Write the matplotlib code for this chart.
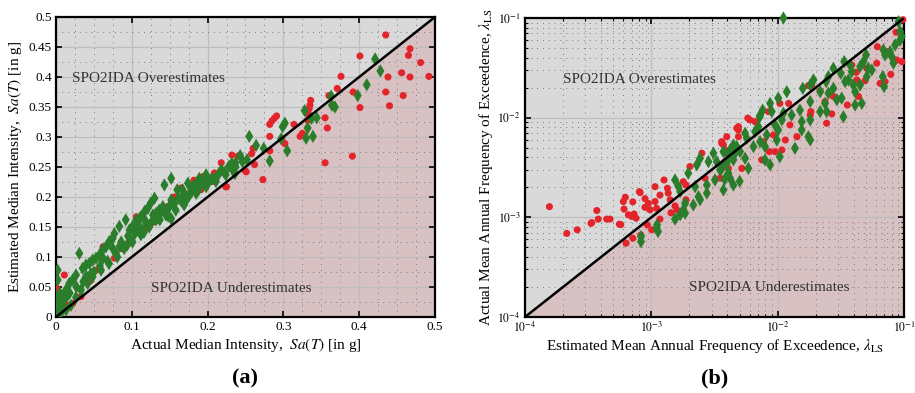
import numpy as np
import matplotlib
matplotlib.use('Agg')
import matplotlib.pyplot as plt
from matplotlib.patches import Polygon
from matplotlib.ticker import FixedLocator, LogLocator, NullFormatter, FuncFormatter

plt.rcParams['font.family'] = ['Liberation Serif', 'DejaVu Serif']
plt.rcParams['mathtext.fontset'] = 'stix'

# Panel (a): median intensity, actual (x) vs estimated (y), in g
red_a_x = [0.435, 0.401, 0.467, 0.465, 0.481, 0.438, 0.456, 0.467, 0.492, 0.376, 0.371, 0.392,
           0.435, 0.458, 0.440, 0.401, 0.360, 0.355, 0.358, 0.336, 0.335, 0.334, 0.332, 0.332,
           0.325, 0.322, 0.314, 0.291, 0.288, 0.285, 0.282, 0.282, 0.298, 0.302, 0.282, 0.391,
           0.355, 0.273, 0.262, 0.258, 0.260, 0.250, 0.232, 0.247, 0.218, 0.251, 0.224, 0.207,
           0.191, 0.194, 0.172, 0.176, 0.156, 0.147, 0.106, 0.119, 0.095, 0.086, 0.077, 0.062,
           0.057, 0.053, 0.011, 0.033, 0.022, 0.001, 0.225, 0.182, 0.165, 0.138, 0.128, 0.045,
           0.005, 0.015, 0.240, 0.209]
red_a_y = [0.470, 0.435, 0.447, 0.436, 0.424, 0.400, 0.407, 0.400, 0.401, 0.401, 0.381, 0.375,
           0.375, 0.369, 0.352, 0.349, 0.369, 0.332, 0.315, 0.361, 0.353, 0.347, 0.339, 0.328,
           0.306, 0.301, 0.321, 0.335, 0.331, 0.327, 0.321, 0.301, 0.297, 0.289, 0.277, 0.268,
           0.257, 0.229, 0.254, 0.272, 0.281, 0.243, 0.270, 0.261, 0.257, 0.242, 0.217, 0.226,
           0.212, 0.234, 0.200, 0.203, 0.200, 0.184, 0.167, 0.148, 0.123, 0.114, 0.098, 0.117,
           0.100, 0.078, 0.070, 0.034, 0.023, 0.048, 0.217, 0.228, 0.215, 0.176, 0.158, 0.060,
           0.010, 0.020, 0.268, 0.240]

green_a_x = [0.421, 0.428, 0.410, 0.398, 0.363, 0.364, 0.368, 0.328, 0.344, 0.337, 0.332, 0.339,
             0.330, 0.302, 0.299, 0.297, 0.305, 0.282, 0.255, 0.264, 0.274, 0.243, 0.252, 0.237,
             0.232, 0.236, 0.237, 0.215, 0.198, 0.189, 0.194, 0.185, 0.180, 0.152, 0.143, 0.167,
             0.169, 0.174, 0.152, 0.156, 0.169, 0.152, 0.141, 0.136, 0.132, 0.130, 0.125, 0.121,
             0.117, 0.112, 0.106, 0.101, 0.097, 0.092, 0.0836, 0.077, 0.0748, 0.0704, 0.066,
             0.0616, 0.0572, 0.0528, 0.0484, 0.044, 0.0396, 0.0352, 0.0308, 0.0264, 0.022,
             0.0176, 0.0132, 0.0088, 0.0044, 0.0022, 0.0022, 0.0022, 0.002, 0.0066, 0.0132,
             0.0198, 0.0264, 0.033, 0.0418, 0.0484, 0.0594, 0.070, 0.081, 0.090, 0.101, 0.112,
             0.123, 0.132, 0.145, 0.158, 0.172, 0.185, 0.198, 0.211, 0.224, 0.233, 0.246,
             0.062, 0.075, 0.086, 0.095, 0.108, 0.118, 0.128, 0.140, 0.150, 0.162, 0.178, 0.190,
             0.205, 0.218, 0.160, 0.108, 0.003, 0.008, 0.012, 0.016, 0.005, 0.001,
             0.040, 0.050, 0.058, 0.068, 0.079, 0.088, 0.098, 0.104, 0.114, 0.126, 0.135, 0.146,
             0.155, 0.165, 0.176, 0.188, 0.200, 0.210, 0.222, 0.228, 0.084, 0.094, 0.116, 0.137,
             0.148, 0.010, 0.018, 0.027, 0.036, 0.046]
green_a_y = [0.430, 0.410, 0.387, 0.369, 0.368, 0.353, 0.350, 0.344, 0.332, 0.331, 0.315, 0.301,
             0.298, 0.323, 0.317, 0.297, 0.277, 0.260, 0.301, 0.286, 0.281, 0.269, 0.262, 0.257,
             0.256, 0.239, 0.250, 0.239, 0.237, 0.231, 0.226, 0.223, 0.217, 0.231, 0.220, 0.212,
             0.206, 0.223, 0.195, 0.189, 0.187, 0.164, 0.184, 0.178, 0.173, 0.198, 0.190, 0.181,
             0.176, 0.167, 0.162, 0.151, 0.145, 0.162, 0.151, 0.139, 0.131, 0.126, 0.117,
             0.112, 0.103, 0.0978, 0.095, 0.0894, 0.0867, 0.0811, 0.106, 0.070, 0.0617,
             0.0561, 0.045, 0.0339, 0.0228, 0.0172, 0.078, 0.0617, 0.027, 0.0073, 0.0117,
             0.0195, 0.0328, 0.045, 0.056, 0.067, 0.078, 0.089, 0.100, 0.114, 0.125, 0.137,
             0.150, 0.162, 0.170, 0.178, 0.195, 0.206, 0.217, 0.226, 0.237, 0.245, 0.259,
             0.098, 0.114, 0.125, 0.135, 0.145, 0.160, 0.170, 0.178, 0.185, 0.198, 0.210, 0.218,
             0.230, 0.245, 0.212, 0.155, 0.005, 0.014, 0.030, 0.038, 0.040, 0.032,
             0.068, 0.075, 0.085, 0.093, 0.106, 0.118, 0.128, 0.139, 0.146, 0.158, 0.167, 0.176,
             0.186, 0.194, 0.203, 0.212, 0.222, 0.232, 0.241, 0.251, 0.118, 0.120, 0.141, 0.162,
             0.168, 0.028, 0.040, 0.050, 0.059, 0.072]

# Panel (b): mean annual frequency, estimated (x) vs actual (y)
red_b_x = [2.14e-4, 2.59e-4, 3.33e-4, 3.70e-4, 3.80e-4, 4.43e-4, 4.71e-4, 5.73e-4, 6.31e-4, 7.13e-4,
           8.25e-4, 9.29e-4, 1.007e-3, 1.17e-3, 6.22e-4, 7.13e-4, 8.04e-4, 6.08e-4, 6.58e-4, 7.0e-4,
           7.57e-4, 7.3e-4, 8.91e-4, 9.47e-4, 8.91e-4, 9.77e-4, 1.07e-3, 1.17e-3, 1.10e-3, 1.07e-3,
           1.26e-3, 1.34e-3, 1.36e-3, 1.41e-3, 1.54e-3, 1.59e-3, 1.43e-3, 1.79e-3, 1.88e-3, 2.02e-3,
           1.88e-3, 2.51e-3, 2.66e-3, 3.50e-3, 3.61e-3, 3.72e-3, 3.95e-3, 3.83e-3, 4.74e-3, 4.89e-3,
           3.83e-3, 4.07e-3, 0.098, 8.65e-2, 6.15e-2, 7.31e-2, 8.77e-2, 9.6e-2, 6.08e-2, 7.85e-2,
           6.47e-2, 7.08e-2, 3.86e-2, 4.18e-2, 4.23e-2, 4.92e-2, 5.07e-2, 4.36e-2, 3.56e-2, 2.76e-2,
           2.68e-2, 2.44e-2, 2.37e-2, 2.17e-2, 1.83e-2, 1.81e-2, 1.86e-2, 1.75e-2, 1.22e-2, 1.25e-2,
           1.42e-2, 1.15e-2, 1.08e-2, 9.53e-3, 8.59e-3, 7.48e-3, 5.20e-3, 4.89e-3, 4.89e-3, 6.04e-3,
           3.61e-3, 3.83e-3, 3.72e-3, 9.25e-3, 7.71e-3, 1.04e-2, 8.44e-3, 6.62e-3, 1.56e-4, 3.37e-4,
           5.58e-4, 6.0e-4, 8.15e-4, 5.8e-3]
red_b_y = [6.9e-4, 7.5e-4, 8.7e-4, 1.17e-3, 9.6e-4, 9.6e-4, 9.6e-4, 8.45e-4, 5.5e-4, 6.17e-4,
           6.65e-4, 8.4e-4, 7.5e-4, 9.6e-4, 1.59e-3, 1.43e-3, 1.81e-3, 1.21e-3, 1.06e-3, 1.02e-3,
           9.8e-4, 1.08e-3, 1.54e-3, 1.38e-3, 1.26e-3, 1.19e-3, 1.44e-3, 1.67e-3, 1.23e-3, 2.03e-3,
           2.37e-3, 1.96e-3, 1.75e-3, 1.50e-3, 1.30e-3, 1.19e-3, 1.11e-3, 2.28e-3, 2.11e-3, 3.23e-3,
           1.50e-3, 4.40e-3, 2.47e-3, 2.47e-3, 5.74e-3, 5.32e-3, 6.44e-3, 4.40e-3, 7.83e-3, 6.44e-3,
           3.62e-3, 3.10e-3, 0.096, 7.19e-2, 5.15e-2, 4.59e-2, 3.79e-2, 3.65e-2, 3.52e-2, 2.72e-2,
           2.21e-2, 2.30e-2, 3.38e-2, 2.85e-2, 2.39e-2, 2.35e-2, 3.13e-2, 1.63e-2, 1.34e-2, 1.63e-2,
           1.09e-2, 8.79e-3, 1.45e-2, 1.85e-2, 1.15e-2, 1.06e-2, 2.13e-2, 2.10e-2, 1.39e-2, 8.45e-3,
           6.44e-3, 5.97e-3, 4.74e-3, 4.56e-3, 4.56e-3, 3.77e-3, 3.10e-3, 8.13e-3, 7.53e-3, 9.48e-3,
           5.53e-3, 4.74e-3, 3.48e-3, 6.70e-3, 5.74e-3, 1.39e-2, 1.15e-2, 9.12e-3, 1.28e-3, 8.85e-4,
           8.53e-4, 1.44e-3, 1.77e-3, 9.9e-3]

green_b_x = [8.28e-4, 8.28e-4, 1.11e-3, 1.13e-3, 1.10e-3, 1.54e-3, 1.79e-3, 1.69e-3, 1.85e-3, 1.54e-3,
             1.64e-3, 1.69e-3, 1.96e-3, 2.29e-3, 2.22e-3, 2.15e-3, 2.36e-3, 2.43e-3, 2.75e-3, 2.75e-3,
             2.43e-3, 2.83e-3, 3.10e-3, 3.19e-3, 3.29e-3, 3.50e-3, 3.72e-3, 3.95e-3, 4.07e-3, 4.20e-3,
             4.46e-3, 4.46e-3, 4.60e-3, 4.46e-3, 3.72e-3, 1.11e-2, 9.04e-2, 9.31e-2, 9.6e-2, 9.31e-2,
             8.51e-2, 7.76e-2, 6.87e-2, 7.08e-2, 8.0e-2, 8.24e-2, 6.79e-2, 6.95e-2, 5.01e-2, 4.78e-2,
             4.49e-2, 5.22e-2, 5.56e-2, 5.07e-2, 4.49e-2, 3.97e-2, 3.63e-2, 3.42e-2, 3.36e-2, 3.74e-2,
             3.86e-2, 3.16e-2, 2.76e-2, 2.52e-2, 2.42e-2, 2.76e-2, 2.94e-2, 3.21e-2, 4.10e-2, 4.63e-2,
             4.10e-2, 3.31e-2, 1.92e-2, 1.81e-2, 1.58e-2, 2.17e-2, 2.52e-2, 2.37e-2, 2.17e-2, 2.44e-2,
             1.81e-2, 1.50e-2, 1.81e-2, 1.55e-2, 1.55e-2, 1.75e-2, 1.81e-2, 1.37e-2, 1.04e-2, 8.71e-3,
             7.94e-3, 1.18e-2, 1.01e-2, 8.71e-3, 8.98e-3, 7.26e-3, 1.08e-2, 1.29e-2, 1.11e-2, 9.53e-3,
             1.01e-2, 8.19e-3, 7.03e-3, 6.62e-3, 7.26e-3, 5.69e-3, 6.43e-3, 5.52e-3, 5.86e-3, 4.07e-3,
             3.95e-3, 3.61e-3, 5.52e-3, 4.20e-3, 5.04e-3, 7.94e-3, 9.84e-3, 3.8e-3, 5.0e-3, 1.85e-3,
             7.2e-3, 4.74e-3, 7.6e-3]
green_b_y = [5.7e-4, 6.4e-4, 8.4e-4, 7.2e-4, 7.8e-4, 9.6e-4, 1.19e-3, 1.06e-3, 1.10e-3, 2.37e-3,
             2.03e-3, 1.81e-3, 2.77e-3, 3.36e-3, 2.03e-3, 1.33e-3, 1.61e-3, 1.50e-3, 1.75e-3, 2.11e-3,
             3.91e-3, 3.62e-3, 4.40e-3, 2.37e-3, 3.62e-3, 2.99e-3, 4.56e-3, 3.48e-3, 2.77e-3, 2.47e-3,
             5.32e-3, 3.77e-3, 4.40e-3, 2.11e-3, 1.88e-3, 0.1, 9.18e-2, 7.29e-2, 6.49e-2, 6.01e-2,
             5.36e-2, 4.59e-2, 4.78e-2, 4.26e-2, 4.09e-2, 3.52e-2, 2.58e-2, 2.05e-2, 4.26e-2, 3.65e-2,
             3.25e-2, 3.13e-2, 3.01e-2, 2.58e-2, 2.13e-2, 2.13e-2, 2.39e-2, 2.30e-2, 3.65e-2, 3.38e-2,
             2.90e-2, 2.79e-2, 3.13e-2, 2.58e-2, 2.30e-2, 1.97e-2, 1.51e-2, 1.57e-2, 1.82e-2, 1.39e-2,
             1.34e-2, 1.02e-2, 2.39e-2, 2.13e-2, 1.97e-2, 1.82e-2, 1.76e-2, 1.39e-2, 1.15e-2, 1.15e-2,
             1.45e-2, 1.19e-2, 9.48e-3, 9.12e-3, 7.53e-3, 6.44e-3, 5.97e-3, 4.93e-3, 4.06e-3, 3.36e-3,
             3.77e-3, 1.82e-2, 1.57e-2, 1.39e-2, 1.15e-2, 1.06e-2, 9.48e-3, 1.06e-2, 1.11e-2, 8.45e-3,
             7.53e-3, 6.70e-3, 8.13e-3, 7.24e-3, 5.74e-3, 6.21e-3, 5.12e-3, 3.91e-3, 3.10e-3, 4.23e-3,
             3.62e-3, 3.10e-3, 6.97e-3, 4.74e-3, 4.56e-3, 5.12e-3, 5.97e-3, 2.4e-3, 2.3e-3, 1.38e-3,
             1.02e-2, 5.12e-3, 1.19e-2]

RED = '#e3242b'
GREEN = '#2a7d2a'
GRAY_BG = '#d9d9d9'
PINK_BG = '#d8c1c2'
TXT = '#333333'


def style_panel(ax):
    # two coloured triangles split by the 1:1 line
    ax.add_patch(Polygon([(0, 0), (0, 1), (1, 1)], closed=True, transform=ax.transAxes,
                         facecolor=GRAY_BG, edgecolor='none', zorder=0))
    ax.add_patch(Polygon([(0, 0), (1, 0), (1, 1)], closed=True, transform=ax.transAxes,
                         facecolor=PINK_BG, edgecolor='none', zorder=0))
    ax.set_axisbelow(True)
    ax.grid(True, which='major', color='#bdbdbd', lw=0.9, ls='-')
    ax.grid(True, which='minor', color='#7a7a7a', lw=0.7, ls=(0, (1, 5)))
    ax.tick_params(which='both', direction='in', top=True, right=True, colors='black')
    ax.tick_params(which='major', length=4, width=1.2)
    ax.tick_params(which='minor', length=2, width=0.8)
    for s in ax.spines.values():
        s.set_linewidth(1.6)


fig = plt.figure(figsize=(9.15, 3.93), dpi=100)

# ---- (a)
ax1 = fig.add_axes([0.0612, 0.1934, 0.4142, 0.7634])
style_panel(ax1)
ax1.scatter(red_a_x, red_a_y, s=26, marker='o', color=RED, edgecolors='none', zorder=3)
ax1.scatter(green_a_x, green_a_y, s=46, marker='d', color=GREEN, edgecolors='none', zorder=3)
ax1.plot([0, 0.5], [0, 0.5], color='black', lw=1.8, zorder=4)
ax1.set_xlim(0, 0.5)
ax1.set_ylim(0, 0.5)
ax1.xaxis.set_major_locator(FixedLocator(np.arange(0, 0.51, 0.1)))
ax1.xaxis.set_minor_locator(FixedLocator([v for v in np.arange(0, 0.51, 0.025) if round(v / 0.1, 3) % 1]))
ax1.yaxis.set_major_locator(FixedLocator(np.arange(0, 0.51, 0.05)))
ax1.yaxis.set_minor_locator(FixedLocator(np.arange(0.025, 0.5, 0.05)))
ax1.xaxis.set_major_formatter(FuncFormatter(lambda v, p: '%g' % round(v, 3)))
ax1.yaxis.set_major_formatter(FuncFormatter(lambda v, p: '%g' % round(v, 3)))
ax1.tick_params(which='minor', length=0)
ax1.tick_params(labelsize=9.5, pad=3)
ax1.set_xlabel('Actual Median Intensity,  $Sa(T)$ [in g]', fontsize=11, labelpad=2)
ax1.set_ylabel('Estimated Median Intensity,  $Sa(T)$ [in g]', fontsize=11, labelpad=3)
ax1.text(0.021, 0.398, 'SPO2IDA Overestimates', fontsize=11, color=TXT, va='center', zorder=5)
ax1.text(0.125, 0.048, 'SPO2IDA Underestimates', fontsize=11, color=TXT, va='center', zorder=5)

# ---- (b)
ax2 = fig.add_axes([0.5738, 0.1934, 0.4142, 0.7608])
ax2.set_xscale('log')
ax2.set_yscale('log')
style_panel(ax2)
ax2.scatter(red_b_x, red_b_y, s=26, marker='o', color=RED, edgecolors='none', zorder=3, clip_on=False)
ax2.scatter(green_b_x, green_b_y, s=46, marker='d', color=GREEN, edgecolors='none', zorder=3, clip_on=False)
ax2.plot([1e-4, 1e-1], [1e-4, 1e-1], color='black', lw=1.8, zorder=4)
ax2.set_xlim(1e-4, 1e-1)
ax2.set_ylim(1e-4, 1e-1)
for axis in (ax2.xaxis, ax2.yaxis):
    axis.set_major_locator(LogLocator(base=10, numticks=10))
    axis.set_minor_locator(LogLocator(base=10, subs=np.arange(2, 10), numticks=10))
    axis.set_minor_formatter(NullFormatter())
    axis.set_major_formatter(FuncFormatter(lambda v, p: '$10^{%d}$' % round(np.log10(v))))
ax2.tick_params(labelsize=8.5, pad=3)
ax2.set_xlabel(r'Estimated Mean Annual Frequency of Exceedence, $\lambda_{\rm LS}$', fontsize=11, labelpad=1)
ax2.set_ylabel(r'Actual Mean Annual Frequency of Exceedence, $\lambda_{\rm LS}$', fontsize=11, labelpad=2)
ax2.text(2.0e-4, 2.39e-2, 'SPO2IDA Overestimates', fontsize=11, color=TXT, va='center', zorder=5)
ax2.text(1.99e-3, 1.96e-4, 'SPO2IDA Underestimates', fontsize=11, color=TXT, va='center', zorder=5)

fig.text(0.268, 0.038, '(a)', fontsize=16, fontweight='bold', ha='center', va='center')
fig.text(0.781, 0.038, '(b)', fontsize=16, fontweight='bold', ha='center', va='center')

fig.savefig('out.png', dpi=100)
